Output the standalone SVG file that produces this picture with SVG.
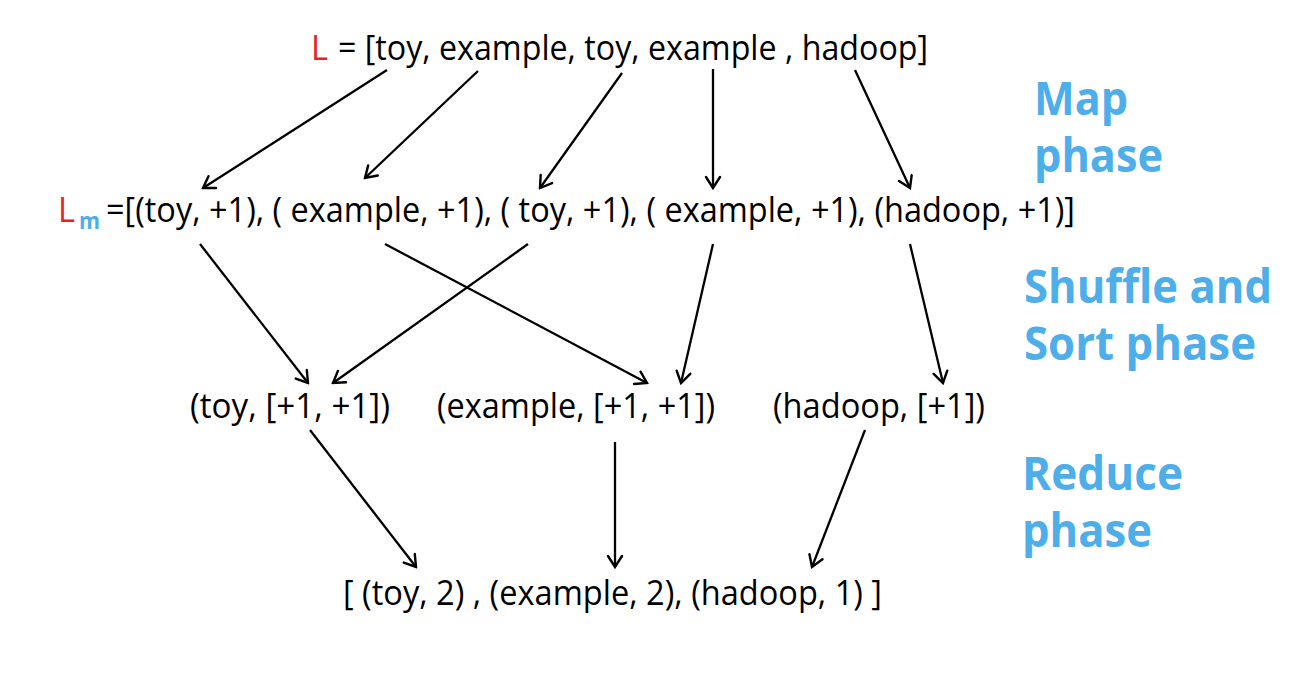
<svg xmlns="http://www.w3.org/2000/svg" width="1290" height="694" viewBox="0 0 1290 694">
<defs>
<marker id="arr" markerUnits="userSpaceOnUse" viewBox="-1 -9 15 18" markerWidth="15" markerHeight="18" refX="12" refY="0" orient="auto">
<path d="M1,-7 L12,0 L1,7" fill="none" stroke="#000" stroke-width="2.4" stroke-linecap="round" stroke-linejoin="miter"/>
</marker>
<style>
.t{font-family:"Open Sans","Noto Sans",sans-serif;font-size:34px;fill:#000}
.red{fill:#E52420}
.blue{fill:#4DAEEA}
.ph{font-family:"Open Sans","Noto Sans",sans-serif;font-weight:bold;font-size:46px;fill:#4DAEEA}
.c line{stroke:#000;stroke-width:2.3;marker-end:url(#arr)}
</style>
</defs>
<rect width="1290" height="694" fill="#fff"/>
<g id="L">
<text class="t red" x="311" y="60" textLength="17" lengthAdjust="spacingAndGlyphs">L</text>
<text class="t" x="338" y="60" textLength="590" lengthAdjust="spacingAndGlyphs">= [toy, example, toy, example , hadoop]</text>
</g>
<g id="Lm">
<text class="t red" x="58" y="222" textLength="17" lengthAdjust="spacingAndGlyphs">L</text>
<text class="t blue" x="79" y="229" textLength="21" lengthAdjust="spacingAndGlyphs" style="font-size:24px;font-weight:bold">m</text>
<text class="t" x="106" y="222" textLength="969" lengthAdjust="spacingAndGlyphs">=[(toy, +1), ( example, +1), ( toy, +1), ( example, +1), (hadoop, +1)]</text>
</g>
<g id="toy-group">
<text class="t" x="190" y="418" textLength="200" lengthAdjust="spacingAndGlyphs">(toy, [+1, +1])</text>
</g>
<g id="example-group">
<text class="t" x="437" y="418" textLength="278" lengthAdjust="spacingAndGlyphs">(example, [+1, +1])</text>
</g>
<g id="hadoop-group">
<text class="t" x="773" y="418" textLength="212" lengthAdjust="spacingAndGlyphs">(hadoop, [+1])</text>
</g>
<g id="result">
<text class="t" x="343" y="605" textLength="539" lengthAdjust="spacingAndGlyphs">[ (toy, 2) , (example, 2), (hadoop, 1) ]</text>
</g>
<g id="map-phase">
<text class="ph"><tspan x="1034" y="115" textLength="94" lengthAdjust="spacingAndGlyphs">Map</tspan><tspan x="1034" y="172" textLength="129" lengthAdjust="spacingAndGlyphs">phase</tspan></text>
</g>
<g id="shuffle-phase">
<text class="ph"><tspan x="1024" y="303" textLength="248" lengthAdjust="spacingAndGlyphs">Shuffle and</tspan><tspan x="1024" y="360" textLength="232" lengthAdjust="spacingAndGlyphs">Sort phase</tspan></text>
</g>
<g id="reduce-phase">
<text class="ph"><tspan x="1022" y="490" textLength="161" lengthAdjust="spacingAndGlyphs">Reduce</tspan><tspan x="1022" y="547" textLength="130" lengthAdjust="spacingAndGlyphs">phase</tspan></text>
</g>
<g id="connectors" class="c">
<line x1="387" y1="70" x2="203" y2="188"/>
<line x1="478" y1="71" x2="365" y2="178"/>
<line x1="622" y1="73" x2="540" y2="188"/>
<line x1="713" y1="69" x2="713" y2="188"/>
<line x1="855" y1="70" x2="910" y2="188"/>
<line x1="200" y1="244" x2="308" y2="383"/>
<line x1="385" y1="244" x2="647" y2="383"/>
<line x1="528" y1="244" x2="333" y2="383"/>
<line x1="713" y1="244" x2="681" y2="383"/>
<line x1="910" y1="244" x2="943" y2="383"/>
<line x1="310" y1="430" x2="416" y2="567"/>
<line x1="615" y1="442" x2="615" y2="567"/>
<line x1="865" y1="430" x2="812" y2="567"/>
</g>
</svg>
